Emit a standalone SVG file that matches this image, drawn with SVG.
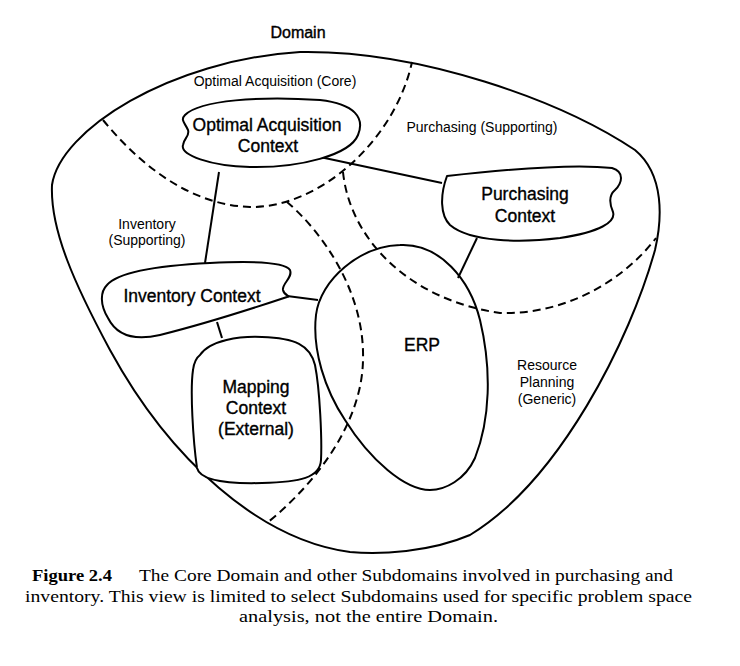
<svg xmlns="http://www.w3.org/2000/svg" width="740" height="666" viewBox="0 0 740 666">
<style>
.o{fill:none;stroke:#000;stroke-width:2;stroke-linejoin:round;stroke-linecap:round}
.n{fill:#fff;stroke:#000;stroke-width:2;stroke-linejoin:round}
.d{fill:none;stroke:#000;stroke-width:2;stroke-dasharray:8 5}
.c{fill:none;stroke:#000;stroke-width:2}
.t{font-family:"Liberation Sans",Arial,sans-serif;fill:#000;text-anchor:middle}
.big{font-size:17.5px;stroke:#000;stroke-width:0.35}
.sm{font-size:14px}
.cap{font-family:"Liberation Serif","Times New Roman",serif;font-size:17.5px;fill:#000}
</style>
<rect width="740" height="666" fill="#fff"/>
<g id="domain">
<path class="o" d="M52,185 C60,130 170,60 300,52 C420,50 560,100 635,150 C665,175 662,220 655,250 C630,340 560,480 470,535 C430,552 380,555 350,552 C260,540 170,460 110,350 C75,285 50,230 52,185 Z"/>
<text class="t" x="298" y="38" font-size="16" stroke="#000" stroke-width="0.4">Domain</text>
</g>
<g id="subdomains">
<path class="d" d="M103,120 C140,165 190,205 250,207 C320,208 395,140 412,62"/>
<path class="d" d="M287,202 C320,230 365,290 363,360 C362,420 320,480 267,523"/>
<path class="d" d="M343,172 C350,240 410,300 500,313 C560,315 620,285 656,238"/>
<text class="t sm" x="275" y="86">Optimal Acquisition (Core)</text>
<text class="t sm" x="482" y="132">Purchasing (Supporting)</text>
<text class="t sm" x="147" y="229">Inventory</text>
<text class="t sm" x="147" y="245">(Supporting)</text>
<text class="t sm" x="547" y="370">Resource</text>
<text class="t sm" x="547" y="387">Planning</text>
<text class="t sm" x="547" y="404">(Generic)</text>
</g>
<g id="connectors">
<line class="c" x1="320" y1="157" x2="442" y2="183"/>
<line class="c" x1="219" y1="172" x2="205" y2="263"/>
<line class="c" x1="477" y1="238" x2="458" y2="278"/>
<line class="c" x1="287" y1="296" x2="318" y2="300"/>
<line class="c" x1="217" y1="322" x2="222" y2="338"/>
</g>
<g id="optimal-acquisition-context">
<path class="n" d="M185,115 C200,100 260,96 320,100 C355,104 365,118 358,135 C350,155 300,168 250,167 C210,166 180,155 183,145 C184,138 190,136 188,130 C185,123 180,120 185,115 Z"/>
<text class="t big" x="267" y="131">Optimal Acquisition</text>
<text class="t big" x="268" y="152">Context</text>
</g>
<g id="purchasing-context">
<path class="n" d="M447,176 C500,170 570,163 612,168 C625,172 622,183 615,190 C608,196 610,205 613,212 C616,222 600,232 560,238 C520,243 470,242 450,225 C440,215 440,195 447,176 Z"/>
<text class="t big" x="525" y="200">Purchasing</text>
<text class="t big" x="525" y="222">Context</text>
</g>
<g id="inventory-context">
<path class="n" d="M107,285 C120,270 170,265 210,263 C250,261 285,262 290,270 C293,278 282,283 283,290 C284,296 292,296 287,297 C260,306 200,325 160,335 C130,342 115,332 108,318 C100,305 100,292 107,285 Z"/>
<text class="t big" x="192" y="302">Inventory Context</text>
</g>
<g id="mapping-context">
<path class="n" d="M200,355 C210,340 240,336 262,337 C295,338 310,345 315,365 C320,390 322,440 321,460 C320,478 300,482 262,483 C225,484 200,480 197,468 C193,440 190,390 193,370 C194,362 196,358 200,355 Z"/>
<text class="t big" x="256" y="393">Mapping</text>
<text class="t big" x="256" y="414">Context</text>
<text class="t big" x="256" y="435">(External)</text>
</g>
<g id="erp">
<path class="o" d="M400,245 C440,243 470,280 480,320 C492,370 490,420 475,458 C465,480 445,490 430,490 C405,490 370,460 345,420 C325,390 312,350 316,315 C320,280 360,246 400,245 Z"/>
<text class="t big" x="422" y="351">ERP</text>
</g>
<g id="caption">
<text class="cap" x="32" y="581" font-weight="bold" textLength="80" lengthAdjust="spacingAndGlyphs">Figure 2.4</text>
<text class="cap" x="139" y="581" textLength="534" lengthAdjust="spacingAndGlyphs">The Core Domain and other Subdomains involved in purchasing and</text>
<text class="cap" x="25" y="601.5" textLength="667" lengthAdjust="spacingAndGlyphs">inventory. This view is limited to select Subdomains used for specific problem space</text>
<text class="cap" x="239" y="622" textLength="259" lengthAdjust="spacingAndGlyphs">analysis, not the entire Domain.</text>
</g>
</svg>
